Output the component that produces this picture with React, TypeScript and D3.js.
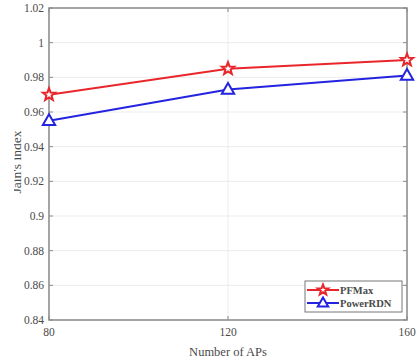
import React from 'react';
import * as d3 from 'd3';

const categories = [80, 120, 160];
const pfmax = [0.97, 0.985, 0.99];
const powerRdn = [0.955, 0.973, 0.981];
const yTicks = [0.84, 0.86, 0.88, 0.9, 0.92, 0.94, 0.96, 0.98, 1, 1.02];
const yTickLabels = ['0.84', '0.86', '0.88', '0.9', '0.92', '0.94', '0.96', '0.98', '1', '1.02'];
const seriesNames = ['PFMax', 'PowerRDN'];

const W = 420, H = 359;
const M = { left: 49, right: 13, top: 8, bottom: 39 };

function starPath(r: number) {
  const pts: string[] = [];
  const ri = r * 0.42;
  for (let i = 0; i < 10; i++) {
    const a = -Math.PI / 2 + (i * Math.PI) / 5;
    const rr = i % 2 === 0 ? r : ri;
    pts.push(`${(rr * Math.cos(a)).toFixed(2)},${(rr * Math.sin(a)).toFixed(2)}`);
  }
  return 'M' + pts.join('L') + 'Z';
}
function triPath(r: number) {
  return `M0,${-r}L${r * 0.95},${r * 0.65}L${-r * 0.95},${r * 0.65}Z`;
}

export default function App() {
  const x = d3.scaleLinear().domain([80, 160]).range([M.left, W - M.right]);
  const y = d3.scaleLinear().domain([0.84, 1.02]).range([H - M.bottom, M.top]);
  const line = d3.line<number>().x((_, i) => x(categories[i])).y(d => y(d));
  const axisColor = '#8a8a8a';
  const textColor = '#4a4a4a';
  const font = 'Liberation Serif, Times New Roman, serif';
  const x0 = x.range()[0], x1 = x.range()[1];
  const y0 = y.range()[0], y1 = y.range()[1];
  const series = [
    { name: seriesNames[0], data: pfmax, color: '#e8262b', marker: starPath(6.5) },
    { name: seriesNames[1], data: powerRdn, color: '#2323e0', marker: triPath(6.5) },
  ];
  return (
    <svg width={W} height={H} style={{ position: 'absolute', left: 0, top: 0, background: '#fff' }} fontFamily={font}>
      <defs>
        <clipPath id="ylab"><rect x={14} y={0} width={20} height={H} /></clipPath>
      </defs>
      <rect width={W} height={H} fill="#fff" />
      {/* grid */}
      {yTicks.map(t => (
        <line key={'gy' + t} x1={x0} x2={x1} y1={y(t)} y2={y(t)} stroke="#ececec" strokeWidth={1} />
      ))}
      {categories.map(c => (
        <line key={'gx' + c} x1={x(c)} x2={x(c)} y1={y0} y2={y1} stroke="#ececec" strokeWidth={1} />
      ))}
      {/* box */}
      <rect x={x0} y={y1} width={x1 - x0} height={y0 - y1} fill="none" stroke={axisColor} strokeWidth={1.5} />
      {/* ticks */}
      {yTicks.map(t => (
        <g key={'ty' + t}>
          <line x1={x0} x2={x0 + 4} y1={y(t)} y2={y(t)} stroke={axisColor} />
          <line x1={x1} x2={x1 - 4} y1={y(t)} y2={y(t)} stroke={axisColor} />
        </g>
      ))}
      {categories.map(c => (
        <g key={'tx' + c}>
          <line x1={x(c)} x2={x(c)} y1={y0} y2={y0 - 4} stroke={axisColor} />
          <line x1={x(c)} x2={x(c)} y1={y1} y2={y1 + 4} stroke={axisColor} />
        </g>
      ))}
      {/* tick labels */}
      {yTicks.map((t, i) => (
        <text key={'ly' + t} x={x0 - 5} y={y(t)} dy="0.35em" textAnchor="end" fontSize={11.5} fill={textColor}>
          {yTickLabels[i]}
        </text>
      ))}
      {categories.map(c => (
        <text key={'lx' + c} x={x(c)} y={y0 + 16} textAnchor="middle" fontSize={11.5} fill={textColor}>
          {c}
        </text>
      ))}
      <text x={(x0 + x1) / 2} y={H - 3} textAnchor="middle" fontSize={12.5} fill={textColor}>Number of APs</text>
      <g clipPath="url(#ylab)">
        <text transform={`translate(20.5,162) rotate(-90)`} textAnchor="middle" fontSize={13.5} fill={textColor}>
          Jain's index
        </text>
      </g>
      {/* series */}
      {series.map(s => (
        <g key={s.name}>
          <path d={line(s.data) || ''} fill="none" stroke={s.color} strokeWidth={2} />
          {s.data.map((v, i) => (
            <path key={i} d={s.marker} transform={`translate(${x(categories[i])},${y(v)})`} fill="#fff" stroke={s.color} strokeWidth={2} />
          ))}
        </g>
      ))}
      {/* legend */}
      <g>
        <rect x={305} y={281} width={97} height={31} fill="#fff" stroke="#777" strokeWidth={1} />
        {series.map((s, i) => {
          const ly = 290 + i * 13;
          return (
            <g key={'lg' + s.name}>
              <line x1={307} x2={339} y1={ly} y2={ly} stroke={s.color} strokeWidth={2} />
              <path d={s.name === 'PFMax' ? starPath(5.5) : triPath(5.5)} transform={`translate(323,${ly})`} fill="#fff" stroke={s.color} strokeWidth={2} />
              <text x={340} y={ly} dy="0.35em" fontSize={10.5} fontWeight="bold" fill={textColor}>{s.name}</text>
            </g>
          );
        })}
      </g>
    </svg>
  );
}
